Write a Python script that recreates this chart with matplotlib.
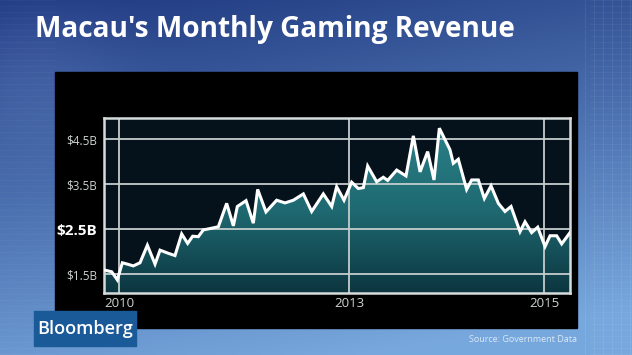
import numpy as np
import matplotlib
matplotlib.use("Agg")
import matplotlib.pyplot as plt
from matplotlib.patches import Rectangle
from matplotlib.colors import LinearSegmentedColormap

# monthly revenue, $ billions (position in months from first point)
months = [0, 1.18, 2.05, 2.82, 3.59, 4.51, 5.54, 6.67, 7.85, 8.62, 9.90, 10.92,
          11.95, 12.87, 13.64, 14.51, 15.28, 16.31, 17.59, 18.87, 19.90, 20.51,
          21.85, 22.97, 23.64, 24.92, 26.56, 27.85, 29.13, 30.67, 31.95, 33.74,
          35.03, 35.79, 36.92, 38.10, 39.13, 39.90, 40.56, 41.95, 42.97, 43.64,
          45.03, 46.46, 47.59, 48.62, 49.79, 50.77, 51.59, 53.23, 53.74, 54.51,
          55.79, 56.56, 57.59, 58.51, 59.54, 60.67, 61.69, 62.62, 64.0, 64.77,
          65.79, 66.72, 67.85, 68.62, 69.64, 70.41, 71.69]
revenue = [1.59, 1.55, 1.37, 1.75, 1.72, 1.68, 1.75, 2.14, 1.72, 2.03, 1.96, 1.91,
           2.39, 2.18, 2.34, 2.33, 2.48, 2.51, 2.55, 3.07, 2.57, 3.00,
           3.13, 2.63, 3.38, 2.88, 3.14, 3.08, 3.14, 3.28, 2.89, 3.28,
           3.00, 3.44, 3.14, 3.54, 3.40, 3.42, 3.90, 3.55, 3.65, 3.58,
           3.81, 3.68, 4.57, 3.77, 4.22, 3.59, 4.74, 4.26, 3.96, 4.05,
           3.38, 3.59, 3.59, 3.18, 3.46, 3.07, 2.89, 3.00, 2.44, 2.66,
           2.42, 2.54, 2.11, 2.35, 2.35, 2.17, 2.42]
year_ticks = [2.3, 37.7, 67.7]
year_labels = ["2010", "2013", "2015"]
y_ticks = [1.5, 2.5, 3.5, 4.5]
y_labels = ["$1.5B", "$2.5B", "$3.5B", "$4.5B"]

W, H = 632, 355
fig = plt.figure(figsize=(W / 100, H / 100), dpi=100)

# blue studio background
bg = fig.add_axes([0, 0, 1, 1])
bg.set_axis_off()
yy, xx = np.mgrid[0:1:200j, 0:1:360j]
top = np.array([0.12, 0.22, 0.50])
bot = np.array([0.47, 0.66, 0.87])
t = np.clip(yy * 0.85 + xx * 0.25, 0, 1)[..., None]
img = top * (1 - t) + bot * t
# lighter patch at left of title
img += 0.06 * np.exp(-((xx - 0.05) ** 2 / 0.02 + (yy - 0.2) ** 2 / 0.05))[..., None]
bg.imshow(np.clip(img, 0, 1), extent=[0, W, H, 0], aspect="auto")
for gx in np.arange(585, 632, 9):
    bg.plot([gx, gx], [0, H], color="white", alpha=0.07, lw=0.8)
for gy in np.arange(0, H, 6):
    bg.plot([590, W], [gy, gy], color="white", alpha=0.05, lw=0.6)
    bg.plot([0, 55], [gy, gy], color="white", alpha=0.04, lw=0.6)
bg.set_xlim(0, W)
bg.set_ylim(H, 0)

# black chart panel
bg.add_patch(Rectangle((55, 72), 522, 256, color="#000000", zorder=2))

fig.text(35 / W, 1 - 30 / H, "Macau's Monthly Gaming Revenue", color="white",
         fontsize=20.2, fontweight="bold", family="Open Sans", va="center", ha="left")

# Bloomberg tag
bg.add_patch(Rectangle((34, 311), 102, 35, color="#1b5a98", zorder=3))
fig.text(85 / W, 1 - 329 / H, "Bloomberg", color="white", fontsize=13,
         fontweight="semibold", family="Open Sans", ha="center", va="center", zorder=4)
fig.text(577 / W, 1 - 339 / H, "Source: Government Data", color="#dbe8f6",
         fontsize=6.5, family="Open Sans", ha="right", va="center")

# main chart
ax = fig.add_axes([104 / W, 1 - 293 / H, (570 - 104) / W, (293 - 118) / H])
ax.set_facecolor("#06121b")
ax.set_xlim(0, months[-1])
ax.set_ylim(1.078, 4.967)

poly = ax.fill_between(months, revenue, 0, color="none")
teal = LinearSegmentedColormap.from_list("teal", ["#0c3640", "#1f6a72", "#2a8088"])
grad = np.linspace(0, 1, 256)[:, None]
im = ax.imshow(grad, cmap=teal, origin="lower", aspect="auto",
               extent=[0, months[-1], 1.078, 4.8], zorder=1)
im.set_clip_path(poly.get_paths()[0], transform=ax.transData)

for v in y_ticks:
    ax.axhline(v, color="#c4cccc", lw=1.3, zorder=2)
for x in year_ticks:
    ax.axvline(x, color="#c4cccc", lw=1.3, zorder=2)

ax.plot(months, revenue, color="white", lw=2.2, zorder=3, solid_joinstyle="miter")

for s in ax.spines.values():
    s.set_color("#d6dcdc")
    s.set_linewidth(1.8)

ax.set_yticks(y_ticks)
ax.set_yticklabels(y_labels)
ax.set_xticks(year_ticks)
ax.set_xticklabels(year_labels)
ax.tick_params(length=0, pad=5, labelsize=8.5, labelcolor="#cdd2d2")
ax.tick_params(axis="x", pad=3, labelsize=9.5)
for lab in ax.get_yticklabels():
    lab.set_family("Open Sans")
    if lab.get_text() == "$2.5B":
        lab.set_fontweight("bold")
        lab.set_fontsize(11)
        lab.set_color("white")
for lab in ax.get_xticklabels():
    lab.set_family("Open Sans")

fig.savefig("out.png", dpi=100)
